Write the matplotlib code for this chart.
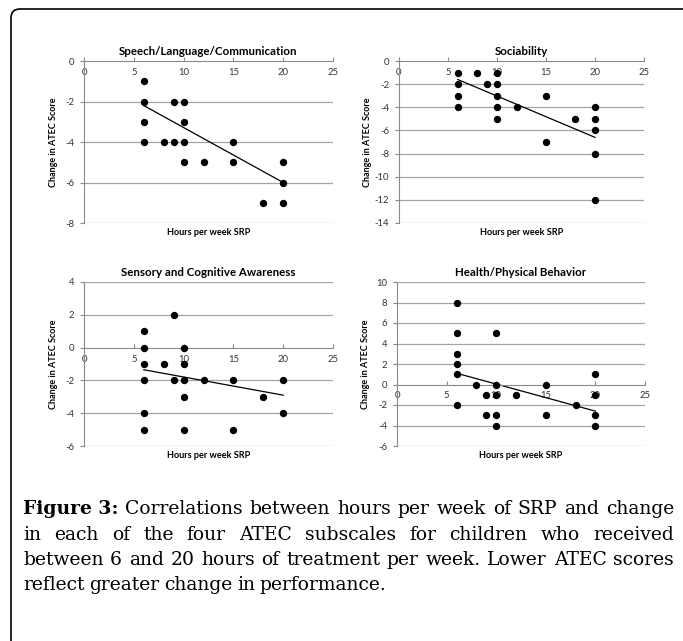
import numpy as np
import matplotlib
matplotlib.use("Agg")
import matplotlib.pyplot as plt
from matplotlib.patches import FancyBboxPatch

plt.rcParams["axes.unicode_minus"] = False

# data (hours per week SRP, change in ATEC score)
speech_x = [6, 6, 6, 6, 8, 9, 9, 10, 10, 10, 10, 12, 15, 15, 18, 20, 20, 20]
speech_y = [-1, -2, -3, -4, -4, -2, -4, -2, -3, -4, -5, -5, -4, -5, -7, -5, -6, -7]
speech_trend = [-2.2, -6.0]

social_x = [6, 6, 6, 6, 8, 9, 10, 10, 10, 10, 10, 12, 15, 15, 18, 20, 20, 20, 20, 20]
social_y = [-1, -2, -3, -4, -1, -2, -1, -2, -3, -4, -5, -4, -3, -7, -5, -4, -5, -6, -8, -12]
social_trend = [-1.6, -6.6]

sensory_x = [6, 6, 6, 6, 6, 6, 8, 9, 9, 10, 10, 10, 10, 10, 12, 15, 15, 18, 20, 20]
sensory_y = [1, 0, -1, -2, -4, -5, -1, 2, -2, 0, -1, -2, -3, -5, -2, -2, -5, -3, -2, -4]
sensory_trend = [-1.35, -2.9]

health_x = [6, 6, 6, 6, 6, 6, 8, 9, 9, 10, 10, 10, 10, 10, 12, 15, 15, 18, 20, 20, 20, 20]
health_y = [8, 5, 3, 2, 1, -2, 0, -1, -3, 5, 0, -1, -3, -4, -1, 0, -3, -2, 1, -1, -3, -4]
health_trend = [1.1, -2.6]

trend_x = [6, 20]

titles = ["Speech/Language/Communication", "Sociability",
          "Sensory and Cognitive Awareness", "Health/Physical Behavior"]
ylims = [(-8, 0), (-14, 0), (-6, 4), (-6, 10)]

caption_lines = [
    "Correlations between hours per week of SRP and change",
    "in each of the four ATEC subscales for children who received",
    "between 6 and 20 hours of treatment per week. Lower ATEC scores",
    "reflect greater change in performance.",
]

W, H = 683, 641
fig = plt.figure(figsize=(W / 100, H / 100), dpi=100)
fig.patch.set_facecolor("white")

# rounded frame (only top/left edges fall inside the picture)
frame = FancyBboxPatch((11, -40), W + 40, H - 9 + 40,
                       boxstyle="round,pad=0,rounding_size=9",
                       transform=None, fill=False, edgecolor="black", linewidth=1.2)
fig.patches.append(frame)

boxes = [(84, 61, 333, 223), (399, 61, 644, 223),
         (84, 282, 333, 446), (397, 282, 645, 446)]
datasets = [(speech_x, speech_y, speech_trend), (social_x, social_y, social_trend),
            (sensory_x, sensory_y, sensory_trend), (health_x, health_y, health_trend)]

font = "Lato"
grid_c = "#a3a3a3"
axis_c = "#8a8a8a"

for (x0, y0, x1, y1), (xs, ys, tr), title, ylim in zip(boxes, datasets, titles, ylims):
    ax = fig.add_axes([x0 / W, 1 - y1 / H, (x1 - x0) / W, (y1 - y0) / H])
    ax.set_xlim(0, 25)
    ax.set_ylim(*ylim)
    ax.set_yticks(np.arange(ylim[0], ylim[1] + 1, 2))
    ax.set_xticks([0, 5, 10, 15, 20, 25])
    for y in ax.get_yticks():
        if y != 0:
            ax.axhline(y, color=grid_c, lw=0.9, zorder=0)
    ax.spines["top"].set_visible(False)
    ax.spines["right"].set_visible(False)
    ax.spines["left"].set_color(axis_c)
    ax.spines["bottom"].set_color(axis_c)
    ax.spines["bottom"].set_position(("data", 0))
    ax.tick_params(axis="y", direction="out", length=3, color=axis_c,
                   labelsize=6.8, labelcolor="#333333", pad=4)
    ax.tick_params(axis="x", direction="in", length=3, color=axis_c,
                   labelsize=6.8, labelcolor="#333333", pad=5)
    for lab in ax.get_xticklabels() + ax.get_yticklabels():
        lab.set_family(font)

    ax.scatter(xs, ys, s=28, color="black", zorder=3, linewidths=0)
    ax.plot(trend_x, tr, color="black", lw=0.9, zorder=2)

    ax.set_title(title, fontsize=8.3, fontweight="bold", family=font, pad=4)
    fig.text((x0 + x1) / 2 / W, 1 - (y1 + 10) / H, "Hours per week SRP",
             ha="center", va="center", fontsize=6.6, fontweight="bold", family=font)
    fig.text((x0 - 31) / W, 1 - ((y0 + y1) / 2) / H, "Change in ATEC Score",
             ha="center", va="center", rotation=90, fontsize=6.5,
             fontweight="bold", family=font)

# caption with justified lines
renderer = fig.canvas.get_renderer()
serif = "DejaVu Serif"
fs = 13.5
left, right = 23, 674
line_base = [514, 539.5, 565, 590.5]
for i, (line, yb) in enumerate(zip(caption_lines, line_base)):
    words = line.split(" ")
    items = []
    if i == 0:
        t = fig.text(0, 0, "Figure 3:", fontsize=fs, family=serif, fontweight="bold",
                     transform=None, va="baseline")
        items.append(t)
    for w in words:
        items.append(fig.text(0, 0, w, fontsize=fs, family=serif, transform=None,
                              va="baseline"))
    widths = [t.get_window_extent(renderer).width for t in items]
    if i < len(caption_lines) - 1:
        gap = (right - left - sum(widths)) / (len(items) - 1)
    else:
        gap = fs * 100 / 72 * 0.25
    x = left
    for t, w in zip(items, widths):
        t.set_position((x, H - yb))
        x += w + gap

fig.savefig("out.png", dpi=100, facecolor="white")
